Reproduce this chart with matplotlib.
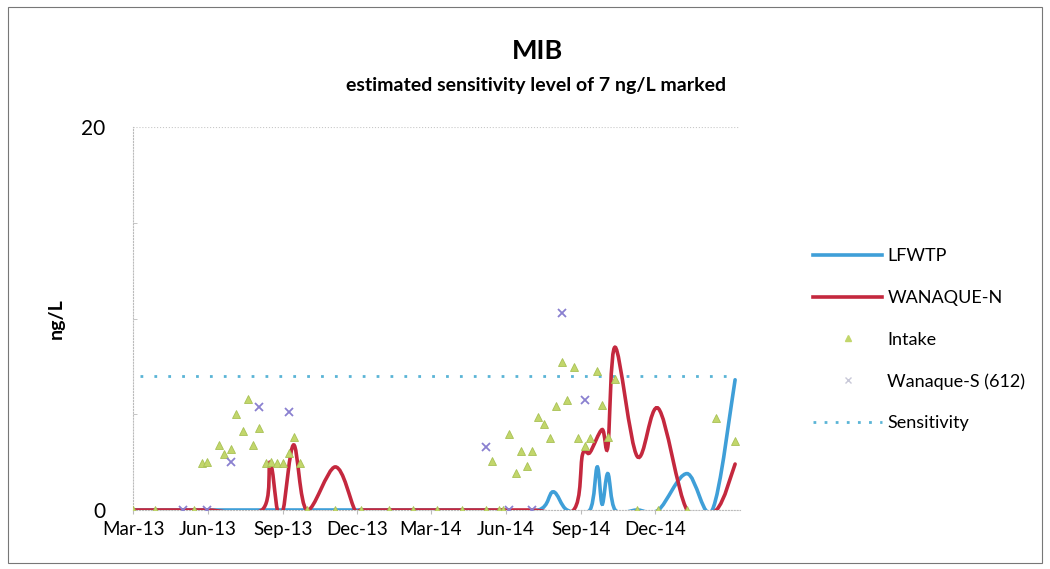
import numpy as np
import pandas as pd
import matplotlib
matplotlib.use("Agg")
import matplotlib.pyplot as plt
import matplotlib.dates as mdates
from matplotlib.path import Path
from matplotlib.patches import PathPatch, Rectangle
from matplotlib.lines import Line2D

plt.rcParams['font.family'] = ['Lato', 'DejaVu Sans']

# ---------------- data ----------------
lfwtp_dates = ["2013-03-01", "2013-03-28", "2013-05-01", "2013-05-31", "2013-08-06",
               "2013-09-01", "2013-09-30", "2013-12-06", "2014-03-09", "2014-05-08",
               "2014-07-11", "2014-07-29", "2014-08-15", "2014-09-12", "2014-09-21",
               "2014-09-27", "2014-10-04", "2014-10-13", "2014-11-09", "2014-12-05",
               "2015-01-09", "2015-02-09", "2015-03-09"]
lfwtp_vals = [0, 0, 0, 0, 0,
              0, 0, 0, 0, 0,
              0, 0.95, 0, 0, 2.25,
              0.3, 1.9, 0, 0, 0,
              1.9, 0, 6.8]

wanaque_n_dates = ["2013-03-01", "2013-03-28", "2013-05-01", "2013-05-31", "2013-08-06",
                   "2013-08-16", "2013-08-25", "2013-09-01", "2013-09-14", "2013-09-30",
                   "2013-11-04", "2013-11-28", "2013-12-06", "2014-01-09", "2014-03-09",
                   "2014-05-08", "2014-07-03", "2014-08-23", "2014-09-03", "2014-09-12",
                   "2014-09-27", "2014-10-04", "2014-10-13", "2014-11-09", "2014-12-05",
                   "2015-01-09", "2015-02-14", "2015-03-09"]
wanaque_n_vals = [0, 0, 0, 0, 0,
                  2.5, 0, 0, 3.4, 0,
                  2.25, 0, 0, 0, 0,
                  0, 0, 0, 2.9, 3.0,
                  4.2, 3.3, 8.5, 2.8, 5.3,
                  0, 0, 2.4]

intake_dates = ["2013-03-01", "2013-03-28", "2013-05-15", "2013-05-25", "2013-05-31",
                "2013-06-14", "2013-06-21", "2013-06-29", "2013-07-05", "2013-07-14",
                "2013-07-20", "2013-07-26", "2013-08-02", "2013-08-11", "2013-08-17",
                "2013-08-25", "2013-09-01", "2013-09-08", "2013-09-14", "2013-09-22",
                "2013-09-30", "2013-11-04", "2013-12-06", "2014-01-09", "2014-02-07",
                "2014-03-09", "2014-04-08", "2014-05-08", "2014-05-15", "2014-05-24",
                "2014-05-29", "2014-06-05", "2014-06-14", "2014-06-20", "2014-06-27",
                "2014-07-03", "2014-07-11", "2014-07-18", "2014-07-25", "2014-08-02",
                "2014-08-09", "2014-08-15", "2014-08-23", "2014-08-28", "2014-09-06",
                "2014-09-12", "2014-09-21", "2014-09-27", "2014-10-04", "2014-10-13",
                "2014-11-09", "2014-12-05", "2015-01-09", "2015-02-14", "2015-03-09"]
intake_vals = [0, 0, 0, 2.45, 2.5,
               3.4, 2.9, 3.2, 5.0, 4.1,
               5.8, 3.4, 4.3, 2.45, 2.5,
               2.45, 2.45, 3.0, 3.8, 2.45,
               0, 0, 0, 0, 0,
               0, 0, 0, 2.55, 0,
               0, 3.95, 1.95, 3.1, 2.3,
               3.1, 4.85, 4.5, 3.75, 5.45,
               7.75, 5.75, 7.45, 3.75, 3.35,
               3.75, 7.25, 5.5, 3.8, 6.85,
               0, 0, 0, 4.8, 3.6]

wanaque_s_dates = ["2013-05-01", "2013-05-31", "2013-06-29", "2013-08-02", "2013-09-08",
                   "2014-05-08", "2014-06-05", "2014-07-03", "2014-08-09", "2014-09-06"]
wanaque_s_vals = [0, 0, 2.5, 5.4, 5.1,
                  3.3, 0, 0, 10.3, 5.75]

sens_dates = ["2013-03-10", "2015-03-09"]
sens_vals = [7, 7]

tick_dates = pd.date_range("2013-03-01", "2014-12-01", freq="3MS")


def smooth_path(dates, vals):
    # Excel style smoothed line: cubic bezier through every point
    x = mdates.date2num(pd.to_datetime(dates))
    y = np.asarray(vals, dtype=float)
    n = len(x)
    verts = [(x[0], y[0])]
    codes = [Path.MOVETO]
    for i in range(n - 1):
        xa, ya = (x[i - 1], y[i - 1]) if i > 0 else (x[i], y[i])
        xb, yb = (x[i + 2], y[i + 2]) if i + 2 < n else (x[i + 1], y[i + 1])
        c1 = (x[i] + (x[i + 1] - xa) / 6, y[i] + (y[i + 1] - ya) / 6)
        c2 = (x[i + 1] - (xb - x[i]) / 6, y[i + 1] - (yb - y[i]) / 6)
        verts += [c1, c2, (x[i + 1], y[i + 1])]
        codes += [Path.CURVE4] * 3
    return Path(verts, codes)


blue = '#3f9fd8'
red = '#c4283e'
green = '#c2d66b'
purple = '#8a80d0'
sens_col = '#5ab4d6'

fig = plt.figure(figsize=(10.5, 5.69), dpi=100)
fig.patches.append(Rectangle((8 / 1050, 6 / 569), 1034 / 1050, 556 / 569,
                             transform=fig.transFigure, fill=False,
                             edgecolor='#777777', linewidth=0.8))

ax = fig.add_axes([133 / 1050, 59 / 569, 607 / 1050, 383 / 569])

ax.add_patch(PathPatch(smooth_path(lfwtp_dates, lfwtp_vals), fill=False,
                       edgecolor=blue, linewidth=2.6, zorder=3, capstyle='round'))
ax.add_patch(PathPatch(smooth_path(wanaque_n_dates, wanaque_n_vals), fill=False,
                       edgecolor=red, linewidth=2.6, zorder=4, capstyle='round'))

ax.plot(pd.to_datetime(sens_dates), sens_vals, linestyle=(0, (1, 4)),
        color=sens_col, linewidth=2, zorder=2)
ax.plot(pd.to_datetime(intake_dates), intake_vals, linestyle='none', marker='^',
        markersize=6, color=green, markeredgecolor='#a9c155', markeredgewidth=0.6, zorder=5)
ax.plot(pd.to_datetime(wanaque_s_dates), wanaque_s_vals, linestyle='none', marker='x',
        markersize=6, color=purple, markeredgewidth=1.3, zorder=5)

ax.set_xlim(pd.Timestamp("2013-03-01"), pd.Timestamp("2015-03-15"))
ax.set_ylim(0, 20)
ax.set_yticks([0, 20])
ax.set_yticks([5, 10, 15], minor=True)
ax.set_xticks(tick_dates)
ax.xaxis.set_major_formatter(mdates.DateFormatter('%b-%y'))
ax.tick_params(axis='y', which='major', labelsize=15, length=0, pad=20)
ax.tick_params(axis='y', which='minor', length=3, direction='in', color='#bbbbbb')
ax.tick_params(axis='x', labelsize=13.5, length=3, direction='out', color='#bbbbbb', pad=5)
ax.grid(axis='y', which='major', color='#c8c8c8', linestyle=':', linewidth=0.8)

for s in ['top', 'right']:
    ax.spines[s].set_visible(False)
for s in ['left', 'bottom']:
    ax.spines[s].set_color('#bbbbbb')
    ax.spines[s].set_linestyle(':')
    ax.spines[s].set_linewidth(0.8)

ax.set_ylabel("ng/L", fontsize=14, fontweight='bold', labelpad=12)

fig.text(537 / 1050, 1 - 51 / 569, "MIB", ha='center', va='center',
         fontsize=19.5, fontweight='bold')
fig.text(536 / 1050, 1 - 86 / 569, "estimated sensitivity level of 7 ng/L marked",
         ha='center', va='center', fontsize=14, fontweight='bold')

handles = [
    Line2D([], [], color=blue, linewidth=2.6),
    Line2D([], [], color=red, linewidth=2.6),
    Line2D([], [], linestyle='none', marker='^', markersize=4, color=green),
    Line2D([], [], linestyle='none', marker='x', markersize=4, color='#c8c8d8'),
    Line2D([], [], linestyle=(0, (1, 3)), color=sens_col, linewidth=2),
]
labels = ["LFWTP", "WANAQUE-N", "Intake", "Wanaque-S (612)", "Sensitivity"]
fig.legend(handles, labels, loc='upper left', bbox_to_anchor=(797 / 1050, 1 - 232 / 569),
           frameon=False, fontsize=13, handlelength=3.8, handletextpad=0.3,
           labelspacing=1.42)

fig.savefig("out.png", dpi=100)
